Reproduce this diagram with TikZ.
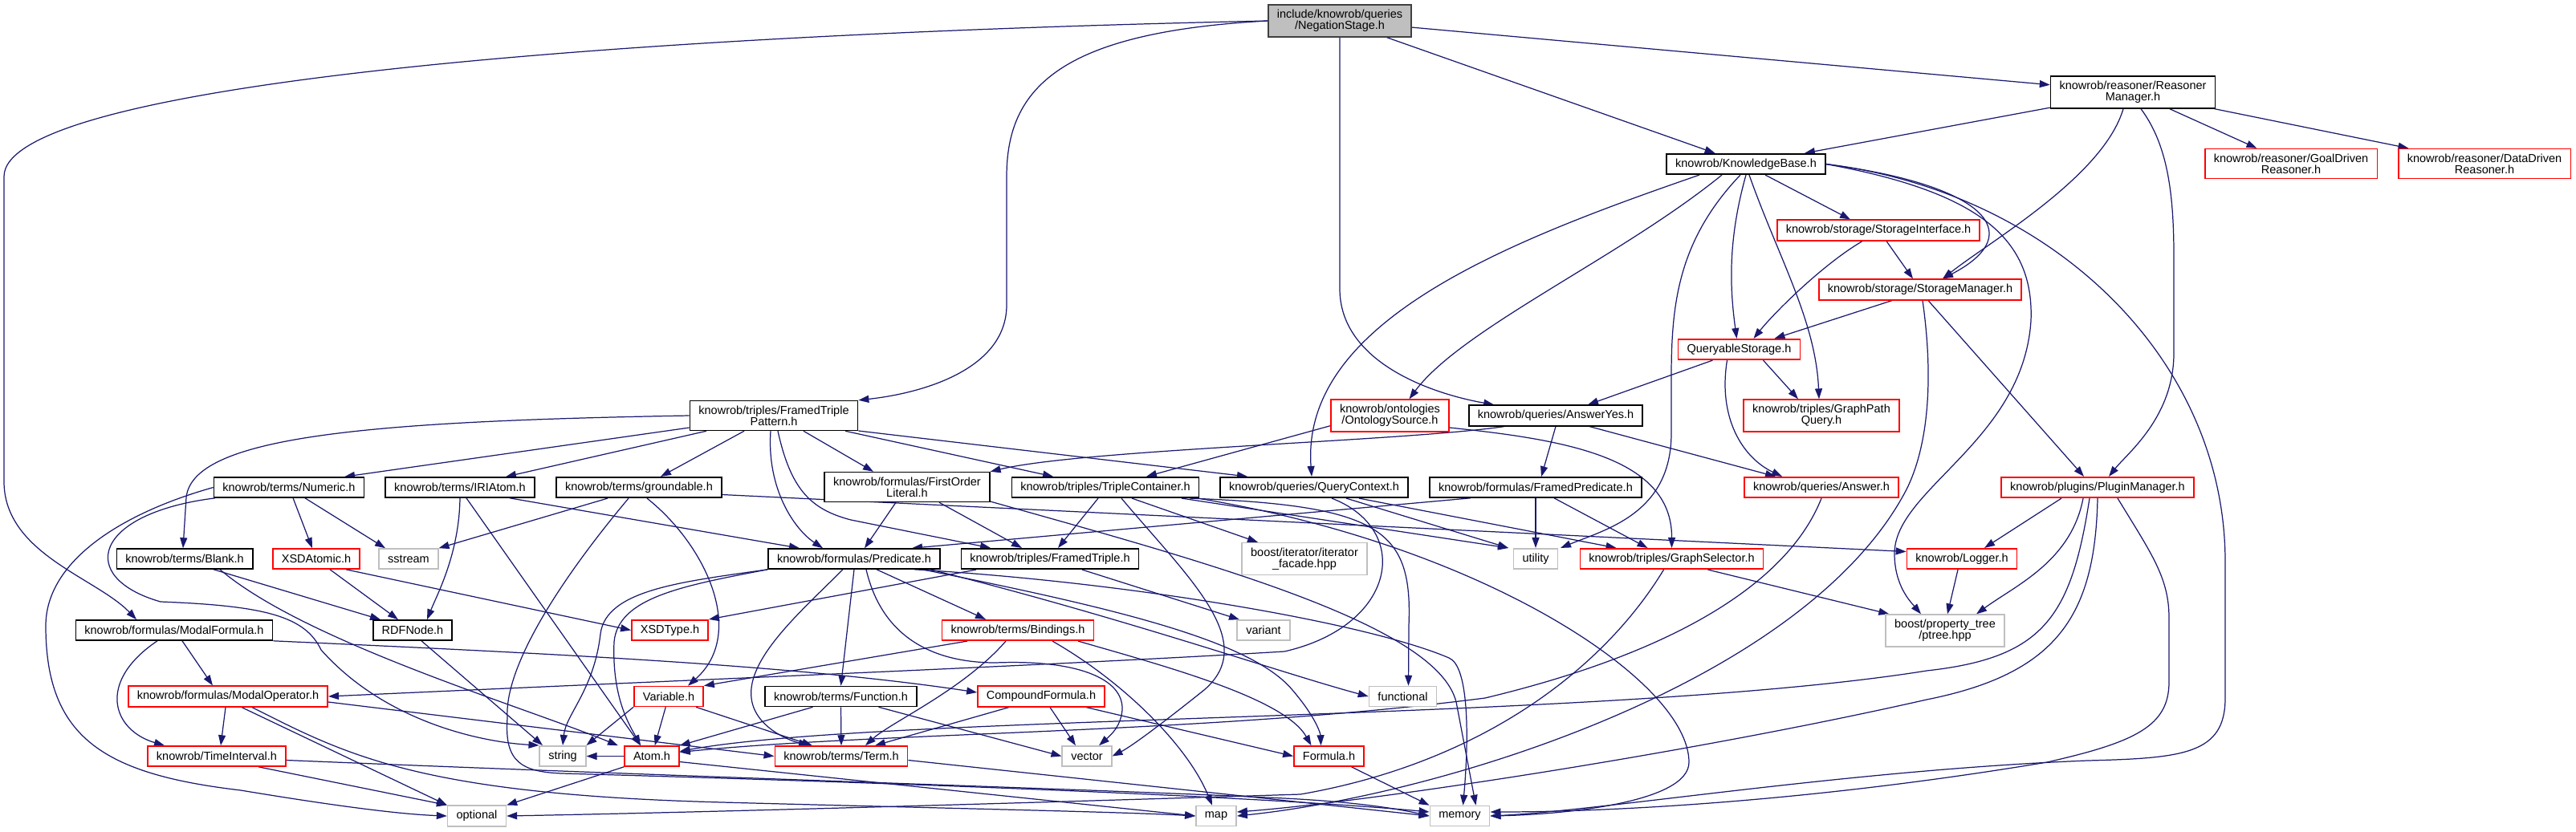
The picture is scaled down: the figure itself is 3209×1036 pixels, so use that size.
\documentclass[tikz,border=0pt]{standalone}
\usepackage{fontspec}
\setmainfont{Liberation Sans}
\usetikzlibrary{arrows.meta, backgrounds}
\definecolor{edgeblue}{HTML}{191970}
\definecolor{rootfill}{HTML}{BFBFBF}
\definecolor{rootline}{HTML}{404040}
\definecolor{sysline}{HTML}{BFBFBF}
\definecolor{hdrred}{HTML}{FF0000}

\begin{document}
\begin{tikzpicture}[x=0.02cm, y=-0.02cm,
    box/.style={draw, line width=0.9pt, fill=white, align=center, inner xsep=0.22cm, inner ysep=0.12cm, minimum height=0.5cm, font=\fontsize{8.25}{8.1}\selectfont},
    root/.style={box, draw=rootline, fill=rootfill},
    hdr/.style={box, draw=black},
    redhdr/.style={box, draw=hdrred},
    sys/.style={box, draw=sysline},
    dep/.style={draw=edgeblue, line width=0.7pt, -{Triangle[length=0.26cm, width=0.18cm]}}]
  \useasboundingbox (0,0) rectangle (3209,1036);

  \node[root] (ns) at (1669,26) {include/knowrob/queries\\/NegationStage.h};
  \node[hdr] (rm) at (2657,115) {knowrob/reasoner/Reasoner\\Manager.h};
  \node[hdr] (kb) at (2175,204.5) {knowrob/KnowledgeBase.h};
  \node[redhdr] (gdr) at (2854,204) {knowrob/reasoner/GoalDriven\\Reasoner.h};
  \node[redhdr] (ddr) at (3095,204) {knowrob/reasoner/DataDriven\\Reasoner.h};
  \node[redhdr] (si) at (2340,287) {knowrob/storage/StorageInterface.h};
  \node[redhdr] (sm) at (2392,361) {knowrob/storage/StorageManager.h};
  \node[redhdr] (qs) at (2166.5,435.5) {QueryableStorage.h};
  \node[redhdr] (os) at (1731.5,518) {knowrob/ontologies\\/OntologySource.h};
  \node[hdr] (ay) at (1938,518) {knowrob/queries/AnswerYes.h};
  \node[redhdr] (gpq) at (2269,518) {knowrob/triples/GraphPath\\Query.h};
  \node[hdr] (ftp) at (964,518) {knowrob/triples/FramedTriple\\Pattern.h};
  \node[hdr] (nu) at (360,607.5) {knowrob/terms/Numeric.h};
  \node[hdr] (iri) at (573,607.5) {knowrob/terms/IRIAtom.h};
  \node[hdr] (gr) at (796,607.5) {knowrob/terms/groundable.h};
  \node[hdr] (fol) at (1130,607) {knowrob/formulas/FirstOrder\\Literal.h};
  \node[hdr] (tc) at (1377,607.5) {knowrob/triples/TripleContainer.h};
  \node[hdr] (qc) at (1637,607.5) {knowrob/queries/QueryContext.h};
  \node[hdr] (fp) at (1913,607.5) {knowrob/formulas/FramedPredicate.h};
  \node[redhdr] (ans) at (2269,607.5) {knowrob/queries/Answer.h};
  \node[redhdr] (pm) at (2613,607.5) {knowrob/plugins/PluginManager.h};
  \node[hdr] (bl) at (230,696.5) {knowrob/terms/Blank.h};
  \node[redhdr] (xa) at (394,696.5) {XSDAtomic.h};
  \node[sys] (ss) at (509,696.5) {sstream};
  \node[hdr] (pr) at (1064,696.5) {knowrob/formulas/Predicate.h};
  \node[hdr] (ft) at (1308,696.5) {knowrob/triples/FramedTriple.h};
  \node[sys] (bi) at (1625,696.5) {boost/iterator/iterator\\\_facade.hpp};
  \node[sys] (ut) at (1913,696.5) {utility};
  \node[redhdr] (gs) at (2082.5,696.5) {knowrob/triples/GraphSelector.h};
  \node[redhdr] (lgr) at (2444,696.5) {knowrob/Logger.h};
  \node[hdr] (mf) at (217,785.5) {knowrob/formulas/ModalFormula.h};
  \node[hdr] (rdf) at (514,785.5) {RDFNode.h};
  \node[redhdr] (xt) at (834.5,785.5) {XSDType.h};
  \node[redhdr] (bnd) at (1268,785.5) {knowrob/terms/Bindings.h};
  \node[sys] (vnt) at (1574,785.5) {variant};
  \node[sys] (pt) at (2423,786) {boost/property\_tree\\/ptree.hpp};
  \node[redhdr] (mo) at (284,868) {knowrob/formulas/ModalOperator.h};
  \node[redhdr] (vr) at (833,868) {Variable.h};
  \node[hdr] (fn) at (1047.5,868) {knowrob/terms/Function.h};
  \node[redhdr] (cf) at (1297,868) {CompoundFormula.h};
  \node[sys] (fun) at (1747.5,868) {functional};
  \node[redhdr] (ti) at (270,942.5) {knowrob/TimeInterval.h};
  \node[sys] (strg) at (701,942.5) {string};
  \node[redhdr] (atm) at (812,942.5) {Atom.h};
  \node[redhdr] (trm) at (1048,942.5) {knowrob/terms/Term.h};
  \node[sys] (vec) at (1354,942.5) {vector};
  \node[redhdr] (frm) at (1655.5,942.5) {Formula.h};
  \node[sys] (opt) at (594,1017) {optional};
  \node[sys] (map) at (1515,1017) {map};
  \node[sys] (mem) at (1818.5,1017) {memory};

  \begin{scope}[on background layer]
  \draw[dep] (ns.west) .. controls (700,45) and (5,110) .. (5,220) -- (5,600) .. controls (5,690) and (120,720) .. ([xshift=-0.94cm]mf.north);
  \draw[dep] (ns.west) .. controls (1320,40) and (1254,110) .. (1254,220) -- (1254,380) .. controls (1254,460) and (1150,490) .. (ftp.north east);
  \draw[dep] (ns) -- (kb);
  \draw[dep] (ns) -- (rm);
  \draw[dep] (ns.south) -- (1669,360) .. controls (1669,450) and (1780,490) .. (ay.170);

  \draw[dep] (rm) -- (kb);
  \draw[dep] ([xshift=-0.24cm]rm.south) .. controls (2620,220) and (2480,300) .. ([xshift=0.56cm]sm.north);
  \draw[dep] ([xshift=0.2cm]rm.south) .. controls (2700,180) and (2708,240) .. (2708,320) -- (2708,440) .. controls (2708,520) and (2650,565) .. ([xshift=0.28cm]pm.north);
  \draw[dep] (rm) -- (gdr);
  \draw[dep] (rm) -- (ddr);

  \draw[dep] ([xshift=0.48cm]kb.south) -- ([xshift=-0.7cm]si.north);
  \draw[dep] (kb.east) .. controls (2470,230) and (2530,290) .. ([xshift=0.56cm]sm.north);
  \draw[dep] (kb.south) .. controls (2152,300) and (2155,360) .. ([xshift=-0.06cm]qs.north);
  \draw[dep] ([xshift=0.08cm]kb.south) .. controls (2215,320) and (2262,400) .. ([xshift=-0.06cm]gpq.north);
  \draw[dep] ([xshift=-0.6cm]kb.south) .. controls (2020,320) and (1820,410) .. ([xshift=0.48cm]os.north);
  \draw[dep] ([xshift=-1.16cm]kb.south) .. controls (1880,300) and (1620,400) .. ([xshift=-0.06cm]qc.north);
  \draw[dep] ([xshift=-0.14cm]kb.south) .. controls (2090,300) and (2082,380) .. (2082,470) -- (2082,540) .. controls (2082,640) and (2000,660) .. ([xshift=0.62cm]ut.north);
  \draw[dep] (kb.east) .. controls (2470,240) and (2534,300) .. (2530,400) .. controls (2520,550) and (2360,610) .. (2360,690) .. controls (2360,730) and (2380,750) .. ([xshift=-0.6cm]pt.north);
  \draw[dep] (kb.east) .. controls (2560,240) and (2772,450) .. (2772,700) -- (2772,870) .. controls (2772,940) and (2720,945) .. (2600,948) .. controls (2300,960) and (2000,1010) .. (mem.east);

  \draw[dep] ([xshift=0.2cm]si.south) -- ([xshift=-0.18cm]sm.north);
  \draw[dep] ([xshift=-0.4cm]si.south) .. controls (2270,330) and (2210,390) .. ([xshift=0.36cm]qs.north);
  \draw[dep] ([xshift=-0.7cm]sm.south) -- ([xshift=0.88cm]qs.north);
  \draw[dep] ([xshift=0.2cm]sm.south) -- ([xshift=-0.34cm]pm.north);
  \draw[dep] ([xshift=0.06cm]sm.south) .. controls (2410,480) and (2400,560) .. (2375,610) .. controls (2250,850) and (1800,990) .. (map.east);

  \draw[dep] ([xshift=-0.66cm]qs.south) -- ([xshift=0.8cm]ay.north);
  \draw[dep] ([xshift=0.6cm]qs.south) -- ([xshift=-0.58cm]gpq.north);
  \draw[dep] ([xshift=-0.3cm]qs.south) .. controls (2140,520) and (2170,570) .. ([xshift=-0.98cm]ans.north);

  \draw[dep] ([xshift=-1.28cm]ay.south) .. controls (1750,550) and (1350,560) .. (fol.north east);
  \draw[dep] (ay.south) -- ([xshift=0.14cm]fp.north);
  \draw[dep] ([xshift=0.84cm]ay.south) -- ([xshift=-1.14cm]ans.north);

  \draw[dep] ([yshift=0.16cm]os.south west) -- ([xshift=1.02cm]tc.north);
  \draw[dep] ([yshift=-0.3cm]os.east) .. controls (1950,548) and (2083,570) .. (gs.north);
  \draw[dep] ([xshift=0.8cm]qc.south) -- ([xshift=-0.68cm]ut.north);
  \draw[dep] ([xshift=1.12cm]qc.south) -- ([xshift=-1.38cm]gs.north);
  \draw[dep] ([xshift=0.44cm]qc.south) .. controls (1760,660) and (1740,780) .. (1600,812) .. controls (1300,830) and (800,850) .. (mo.east);
  \draw[dep] ([xshift=-1.62cm]fp.south) -- ([xshift=1.44cm]pr.north);
  \draw[dep] (fp.south) -- (ut.north);
  \draw[dep] ([xshift=0.46cm]fp.south) -- ([xshift=-0.6cm]gs.north);
  \draw[dep] (ans.south) .. controls (2230,720) and (2100,810) .. (1850,870) .. controls (1500,915) and (1100,912) .. ([yshift=0.1cm]atm.east);

  \draw[dep] ([xshift=-0.9cm]pm.south) -- ([xshift=0.56cm]lgr.north);
  \draw[dep] ([xshift=-0.36cm]pm.south) .. controls (2580,700) and (2510,730) .. ([xshift=0.78cm]pt.north);
  \draw[dep] ([xshift=-0.2cm]pm.south) .. controls (2580,770) and (2545,820) .. (2400,836) .. controls (2000,900) and (1100,890) .. ([yshift=0.12cm]atm.east);
  \draw[dep] (pm.south) .. controls (2610,770) and (2560,840) .. (2400,872) .. controls (2100,940) and (1700,1000) .. ([yshift=0.1cm]map.east);
  \draw[dep] ([xshift=0.5cm]pm.south) .. controls (2680,690) and (2702,720) .. (2702,770) -- (2702,850) .. controls (2702,905) and (2660,925) .. (2550,950) .. controls (2250,1000) and (2000,1012) .. ([yshift=0.1cm]mem.east);
  \draw[dep] ([xshift=-0.1cm]lgr.south) -- ([xshift=0.06cm]pt.north);
  \draw[dep] ([xshift=0.9cm]gs.south) -- ([xshift=0.1cm]pt.north west);
  \draw[dep] ([xshift=-0.2cm]gs.south) .. controls (2000,830) and (1850,950) .. (1620,990) .. controls (1300,1000) and (900,1012) .. (opt.east);

  \draw[dep] (ftp.west) .. controls (450,525) and (240,545) .. (232,620) -- ([xshift=-0.04cm]bl.north);
  \draw[dep] ([yshift=-0.3cm]ftp.west) -- ([xshift=1.38cm]nu.north);
  \draw[dep] ([xshift=-1.68cm]ftp.south) -- ([xshift=1.14cm]iri.north);
  \draw[dep] ([xshift=-0.74cm]ftp.south) -- ([xshift=0.54cm]gr.north);
  \draw[dep] ([xshift=-0.08cm]ftp.south) .. controls (955,610) and (990,660) .. ([xshift=-0.78cm]pr.north);
  \draw[dep] ([xshift=0.1cm]ftp.south) .. controls (985,610) and (1010,635) .. (1060,648) -- ([xshift=-1.48cm]ft.north);
  \draw[dep] ([xshift=0.74cm]ftp.south) -- ([xshift=-0.84cm]fol.north);
  \draw[dep] ([xshift=1.78cm]ftp.south) -- ([xshift=-1.3cm]tc.north);
  \draw[dep] ([yshift=-0.38cm]ftp.east) -- ([xshift=-1.66cm]qc.north);

  \draw[dep] ([xshift=-0.28cm]fol.south) -- ([xshift=0.26cm]pr.north);
  \draw[dep] ([xshift=0.8cm]fol.south) -- ([xshift=-0.7cm]ft.north);
  \draw[dep] ([yshift=-0.36cm]fol.east) .. controls (1500,700) and (1800,780) .. (1815,880) -- ([xshift=0.4cm]mem.north);
  \draw[dep] ([xshift=-0.18cm]tc.south) -- ([xshift=0.2cm]ft.north);
  \draw[dep] ([xshift=0.4cm]tc.south) .. controls (1480,720) and (1570,800) .. (1500,860) .. controls (1450,900) and (1410,930) .. (vec.east);
  \draw[dep] ([xshift=0.66cm]tc.south) -- ([xshift=-1.16cm]bi.north);
  \draw[dep] ([xshift=1.9cm]tc.south) -- ([xshift=-0.68cm]ut.north);
  \draw[dep] ([xshift=2.1cm]tc.south) .. controls (1720,630) and (1760,660) .. (1755,780) -- ([xshift=0.14cm]fun.north);
  \draw[dep] ([xshift=2.3cm]tc.south) .. controls (1850,680) and (2104,850) .. (2104,950) .. controls (2104,1000) and (1950,1015) .. (mem.east);

  \draw[dep] (nu) -- (xa);
  \draw[dep] ([xshift=0.4cm]nu.south) -- ([xshift=-0.58cm]ss.north);
  \draw[dep] (nu.west) .. controls (150,640) and (57,700) .. (57,780) .. controls (57,920) and (130,965) .. (300,985) .. controls (420,1005) and (500,1015) .. (opt.west);
  \draw[dep] ([xshift=-1.84cm]nu.south) .. controls (115,640) and (95,720) .. (200,750) .. controls (330,755) and (380,768) .. (400,810) .. controls (480,900) and (600,925) .. (strg.north west);
  \draw[dep] (iri.south) .. controls (572,690) and (545,740) .. ([xshift=0.36cm]rdf.north);
  \draw[dep] ([xshift=0.16cm]iri.south) -- ([xshift=-0.28cm]atm.north);
  \draw[dep] ([xshift=1.24cm]iri.south) -- ([xshift=-1.36cm]pr.north);
  \draw[dep] ([xshift=-0.78cm]gr.south) -- (ss.north east);
  \draw[dep] ([xshift=0.2cm]gr.south) .. controls (880,680) and (930,790) .. ([xshift=0.48cm]vr.north);
  \draw[dep] ([xshift=-0.26cm]gr.south) .. controls (700,720) and (628,830) .. (632,895) .. controls (628,950) and (650,962) .. (700,964) .. controls (1200,978) and (1600,995) .. ([yshift=0.1cm]mem.west);
  \draw[dep] ([yshift=-0.18cm]gr.east) -- ([yshift=0.18cm]lgr.west);
  \draw[dep] ([xshift=0.72cm]bl.south) -- ([xshift=-0.8cm]rdf.north);
  \draw[dep] ([xshift=0.88cm]bl.south) .. controls (380,800) and (650,880) .. ([xshift=-0.84cm]atm.north);
  \draw[dep] ([xshift=0.34cm]xa.south) -- ([xshift=-0.36cm]rdf.north);
  \draw[dep] ([xshift=0.74cm]xa.south) -- (xt.west);
  \draw[dep] ([xshift=0.22cm]rdf.south) -- ([xshift=-0.5cm]strg.north);

  \draw[dep] ([xshift=0.2cm]mf.south) -- ([xshift=-0.38cm]mo.north);
  \draw[dep] ([xshift=-0.42cm]mf.south) .. controls (120,850) and (140,910) .. ([xshift=-1.3cm]ti.north);
  \draw[dep] (mf.south east) .. controls (700,815) and (1000,830) .. ([yshift=0.1cm]cf.west);
  \draw[dep] ([xshift=-0.06cm]mo.south) -- ([xshift=0.1cm]ti.north);
  \draw[dep] ([xshift=0.34cm]mo.south) -- (opt.north west);
  \draw[dep] ([xshift=0.6cm]mo.south) .. controls (430,940) and (520,990) .. (900,1000) .. controls (1200,1008) and (1400,1012) .. (map.west);
  \draw[dep] ([yshift=-0.14cm]mo.east) -- (trm.west);
  \draw[dep] ([xshift=1.04cm]ti.south) -- (opt.north west);
  \draw[dep] ([yshift=-0.1cm]ti.east) .. controls (900,970) and (1400,985) .. (1600,995) .. controls (1700,1000) and (1750,1010) .. (mem.west);

  \draw[dep] (pr.south west) .. controls (850,730) and (770,745) .. (765,800) .. controls (762,870) and (785,905) .. ([xshift=-0.28cm]atm.north);
  \draw[dep] (pr.south west) .. controls (850,725) and (755,735) .. (748,790) .. controls (740,860) and (705,890) .. (strg.north);
  \draw[dep] ([xshift=-0.28cm]pr.south) .. controls (1000,760) and (930,820) .. (936,870) .. controls (940,905) and (980,922) .. ([xshift=-0.8cm]trm.north);
  \draw[dep] (pr.south) -- (fn.north);
  \draw[dep] ([xshift=0.3cm]pr.south) .. controls (1100,800) and (1170,826) .. (1240,826) .. controls (1340,822) and (1400,845) .. (1398,885) .. controls (1396,905) and (1385,915) .. ([xshift=0.3cm]vec.north);
  \draw[dep] ([xshift=0.56cm]pr.south) -- ([xshift=-0.8cm]bnd.north);
  \draw[dep] ([xshift=1.7cm]pr.south) .. controls (1400,760) and (1560,800) .. (1610,860) .. controls (1640,895) and (1645,915) .. ([xshift=-0.2cm]frm.north);
  \draw[dep] ([xshift=1.9cm]pr.south) .. controls (1400,770) and (1600,840) .. (fun.west);
  \draw[dep] ([xshift=1.5cm]pr.south) .. controls (1400,725) and (1700,775) .. (1805,820) .. controls (1830,830) and (1830,920) .. ([xshift=0.08cm]mem.north);

  \draw[dep] ([xshift=-1.84cm]ft.south) -- (xt.north east);
  \draw[dep] ([xshift=0.8cm]ft.south) -- ([xshift=-0.6cm]vnt.north);
  \draw[dep] ([xshift=-1.26cm]bnd.south) -- (vr.north east);
  \draw[dep] ([xshift=-0.3cm]bnd.south) .. controls (1200,860) and (1110,900) .. ([xshift=0.6cm]trm.north);
  \draw[dep] ([xshift=0.86cm]bnd.south) .. controls (1400,850) and (1480,930) .. ([xshift=-0.1cm]map.north);
  \draw[dep] ([xshift=1.5cm]bnd.south) .. controls (1450,830) and (1600,870) .. ([xshift=-0.44cm]frm.north);
  \draw[dep] ([xshift=-0.7cm]fn.south) -- (atm.north east);
  \draw[dep] (fn.south) -- (trm.north);
  \draw[dep] ([xshift=0.94cm]fn.south) -- (vec.west);
  \draw[dep] ([xshift=-0.8cm]cf.south) -- ([xshift=0.84cm]trm.north);
  \draw[dep] ([xshift=0.22cm]cf.south) -- ([xshift=-0.28cm]vec.north);
  \draw[dep] ([xshift=1.12cm]cf.south) -- (frm.west);
  \draw[dep] (vr) -- (atm);
  \draw[dep] ([xshift=0.68cm]vr.south) -- ([xshift=-0.72cm]trm.north);
  \draw[dep] (vr.south west) -- (strg.north east);
  \draw[dep] (atm.south west) -- (opt.north east);
  \draw[dep] (atm.west) -- (strg.east);
  \draw[dep] ([yshift=-0.14cm]atm.east) -- (map.west);
  \draw[dep] ([yshift=-0.1cm]trm.east) -- (mem.west);
  \draw[dep] ([xshift=0.56cm]frm.south) -- (mem.north west);
  \end{scope}
\end{tikzpicture}
\end{document}
